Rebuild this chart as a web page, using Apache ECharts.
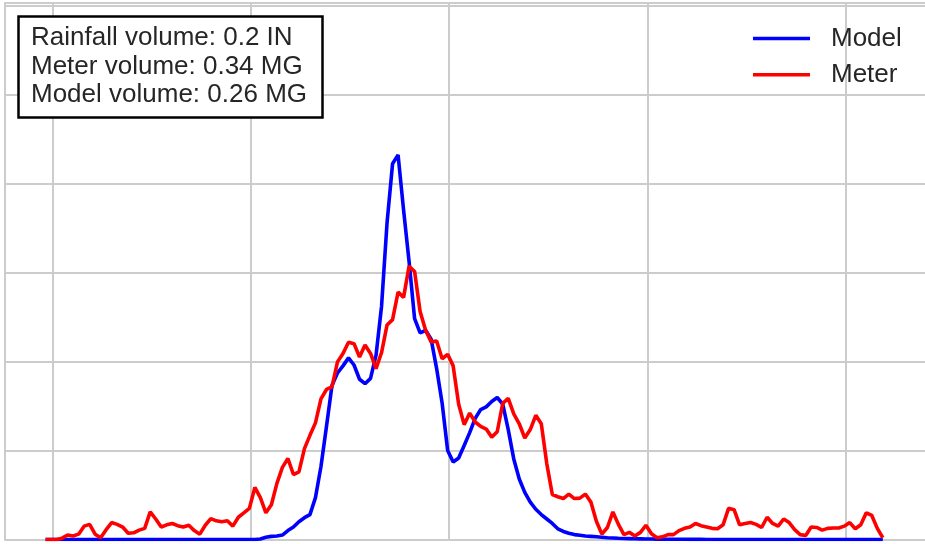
<!DOCTYPE html>
<html><head><meta charset="utf-8">
<script src="https://cdn.jsdelivr.net/npm/echarts@6/dist/echarts.min.js"></script>
<style>html,body{margin:0;padding:0;background:#fff}#chart{width:925px;height:544px}</style>
</head><body><div id="chart"></div>
<script>
const seriesNames = ['Model', 'Meter'];
// Model flow (blue), one value every 20 minutes
const model = [
  0,0,0,0,0,0,0,0,0,0,
  0,0,0,0,0,0,0,0,0,0,
  0,0,0,0,0,0,0,0,0,0,
  0,0,0,0,0,0,0,0,0,0.005,
  0.025,0.035,0.04,0.05,0.10,0.14,0.20,0.245,0.28,0.47,
  0.82,1.27,1.73,1.87,1.95,2.04,1.96,1.80,1.75,1.81,
  2.07,2.62,3.56,4.22,4.32,3.70,3.12,2.48,2.32,2.35,
  2.25,1.92,1.53,1.00,0.87,0.915,1.055,1.20,1.36,1.46,
  1.49,1.55,1.595,1.52,1.235,0.905,0.68,0.53,0.42,0.34,
  0.28,0.23,0.18,0.12,0.09,0.07,0.055,0.048,0.04,0.035,
  0.03,0.025,0.02,0.017,0.014,0.012,0.01,0.008,0.007,0.006,
  0.005,0.004,0.003,0.003,0.002,0.002,0.002,0.001,0.001,0.001,
  0,0,0,0,0,0,0,0,0,0,
  0,0,0,0,0,0,0,0,0,0,
  0,0,0,0,0,0,0,0,0,0,
  0,0,0
];
// Meter flow (red)
const meter = [
  0,0,0,0.015,0.05,0.04,0.06,0.15,0.17,0.06,
  0.02,0.11,0.19,0.17,0.14,0.07,0.075,0.105,0.125,0.31,
  0.23,0.14,0.165,0.18,0.155,0.14,0.16,0.10,0.06,0.16,
  0.235,0.21,0.20,0.21,0.15,0.25,0.30,0.35,0.585,0.47,
  0.30,0.39,0.63,0.81,0.91,0.73,0.76,1.02,1.17,1.31,
  1.58,1.685,1.715,1.995,2.09,2.215,2.20,2.05,2.185,2.09,
  1.92,2.10,2.41,2.47,2.78,2.72,3.07,3.01,2.56,2.35,
  2.22,2.23,2.03,2.08,1.95,1.52,1.29,1.42,1.32,1.27,
  1.24,1.15,1.21,1.53,1.585,1.41,1.30,1.14,1.235,1.395,
  1.30,0.85,0.505,0.48,0.46,0.51,0.46,0.465,0.51,0.42,
  0.205,0.06,0.135,0.31,0.17,0.055,0.08,0.04,0.08,0.16,
  0.065,0.02,0.03,0.055,0.055,0.10,0.125,0.14,0.18,0.155,
  0.14,0.125,0.12,0.165,0.35,0.335,0.165,0.18,0.19,0.17,
  0.135,0.25,0.18,0.15,0.23,0.19,0.11,0.055,0.045,0.14,
  0.135,0.105,0.125,0.13,0.13,0.15,0.19,0.12,0.165,0.30,
  0.27,0.125,0.02
];
const startHour = -0.42;
const stepHours = 1 / 3;
const gridHours = [0, 12, 24, 36, 48];
const summaryLines = [
  'Rainfall volume: 0.2 IN',
  'Meter volume: 0.34 MG',
  'Model volume: 0.26 MG'
];

const times = model.map((_, i) => startHour + i * stepHours);
const pair = arr => arr.map((v, i) => [times[i], v]);

const FONT = '"Liberation Sans", Arial, sans-serif';
const GRID = '#cccccc';
const chart = echarts.init(document.getElementById('chart'), null, { renderer: 'canvas' });
chart.setOption({
  animation: false,
  backgroundColor: '#ffffff',
  grid: { left: 5, top: 3, right: 0, height: 536.5, containLabel: false },
  title: {
    text: summaryLines.join('\n'),
    left: 18, top: 16,
    padding: [8, 16, 8, 13],
    backgroundColor: '#ffffff',
    borderColor: '#000000',
    borderWidth: 2.5,
    textStyle: { fontFamily: FONT, fontSize: 26, fontWeight: 'normal', color: '#262626', lineHeight: 28.5 }
  },
  legend: {
    data: seriesNames,
    orient: 'vertical',
    left: 748, top: 18.5,
    itemWidth: 57, itemHeight: 3.5,
    itemGap: 6.2,
    icon: 'rect',
    textStyle: { fontFamily: FONT, fontSize: 26, color: '#262626', lineHeight: 30, padding: [0, 0, 0, 16] }
  },
  xAxis: [{
    type: 'value', min: -2.874, max: 52.8,
    axisLine: { show: true, onZero: false, lineStyle: { color: GRID, width: 2 } },
    axisTick: { show: false }, axisLabel: { show: false }, splitLine: { show: false }
  }, {
    type: 'value', position: 'top', min: 0, max: 1,
    axisLine: { show: true, onZero: false, lineStyle: { color: GRID, width: 2 } },
    axisTick: { show: false }, axisLabel: { show: false }, splitLine: { show: false }
  }],
  yAxis: {
    type: 'value', min: 0, max: 6.026, interval: 1,
    axisLine: { show: true, onZero: false, lineStyle: { color: GRID, width: 2 } },
    axisTick: { show: false }, axisLabel: { show: false },
    splitLine: { show: true, lineStyle: { color: GRID, width: 2 } }
  },
  series: [{
    name: 'Model', type: 'line', data: pair(model),
    showSymbol: false, symbol: 'none', z: 3,
    lineStyle: { color: '#0000ff', width: 3.6 }, itemStyle: { color: '#0000ff' },
    markLine: {
      silent: true, z: 1, symbol: ['none', 'none'], label: { show: false },
      lineStyle: { color: GRID, width: 2, type: 'solid' },
      emphasis: { disabled: true },
      data: gridHours.map(h => ({ xAxis: h }))
    }
  }, {
    name: 'Meter', type: 'line', data: pair(meter),
    showSymbol: false, symbol: 'none', z: 4,
    lineStyle: { color: '#ff0000', width: 3.6 }, itemStyle: { color: '#ff0000' }
  }]
});
</script></body></html>
